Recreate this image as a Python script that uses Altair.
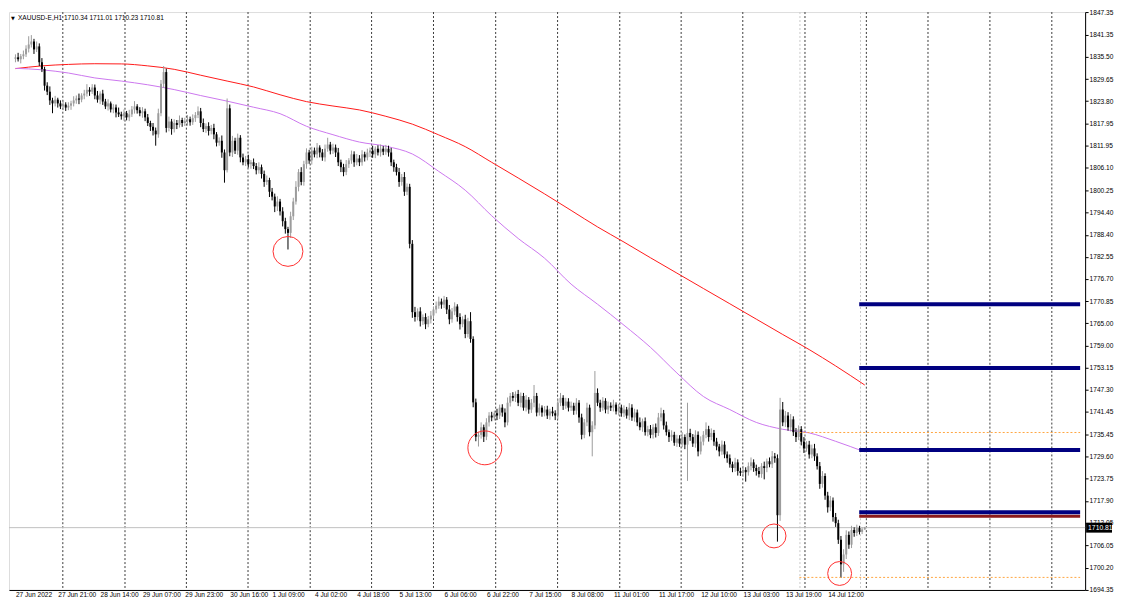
import altair as alt
import pandas as pd

FONT = "Liberation Sans"
W, H = 1080, 580
X_START, X_END = -0.56, 402.4
Y_MIN, Y_MAX = 1694.3, 1847.4

# ---- hourly candles (close / wick lengths) ----
first_open = 1835.0
closes = [
    1835.4, 1834.9, 1835.7, 1836.2, 1837.7, 1838.8, 1839.6, 1837.5, 1838.3, 1834.1,
    1832.3, 1827.9, 1826.3, 1824.0, 1823.2, 1824.2, 1823.2, 1822.4, 1822.9, 1822.1,
    1822.6, 1823.2, 1824.0, 1824.5, 1824.2, 1825.3, 1825.8, 1826.8, 1826.3, 1827.4,
    1825.3, 1824.2, 1825.8, 1823.7, 1822.4, 1823.2, 1821.6, 1822.1, 1820.8, 1820.3,
    1819.8, 1820.6, 1819.5, 1820.3, 1821.6, 1822.4, 1821.4, 1820.6, 1821.1, 1819.5,
    1818.0, 1817.0, 1816.0, 1815.0, 1820.6, 1828.4, 1831.5, 1816.7, 1818.4, 1816.4,
    1818.0, 1817.5, 1818.8, 1818.0, 1818.5, 1819.0, 1818.2, 1819.3, 1820.1, 1821.1,
    1818.0, 1816.4, 1817.2, 1815.9, 1816.7, 1815.0, 1812.8, 1813.3, 1810.2, 1805.5,
    1821.9, 1810.2, 1813.3, 1810.7, 1814.1, 1808.9, 1807.6, 1808.4, 1807.1, 1807.6,
    1806.6, 1805.5, 1806.3, 1804.5, 1802.4, 1802.9, 1799.8, 1798.5, 1795.9, 1797.2,
    1794.6, 1792.0, 1789.9, 1788.9, 1793.3, 1797.2, 1801.1, 1805.0, 1802.4, 1807.1,
    1810.2, 1808.1, 1810.7, 1809.7, 1811.5, 1810.2, 1808.9, 1811.2, 1812.3, 1810.7,
    1811.5, 1810.2, 1807.6, 1806.3, 1805.0, 1807.1, 1808.1, 1809.7, 1807.6, 1808.6,
    1807.6, 1809.7, 1808.9, 1810.2, 1810.7, 1809.7, 1811.2, 1810.2, 1811.2, 1810.4,
    1811.2, 1810.2, 1807.6, 1806.3, 1805.0, 1802.4, 1803.7, 1799.8, 1801.1, 1786.0,
    1767.9, 1766.6, 1768.1, 1765.5, 1766.6, 1764.7, 1766.0, 1767.0, 1768.6, 1769.6,
    1770.7, 1769.9, 1771.2, 1768.6, 1766.0, 1768.1, 1769.4, 1766.6, 1764.7, 1766.0,
    1762.1, 1765.5, 1760.8, 1744.0, 1734.9, 1735.4, 1737.4, 1734.9, 1738.7, 1740.5,
    1740.0, 1741.1, 1740.5, 1742.6, 1741.3, 1738.7, 1743.9, 1745.7, 1745.2, 1746.2,
    1743.9, 1745.7, 1742.6, 1744.7, 1742.1, 1743.9, 1745.7, 1741.3, 1742.6, 1741.3,
    1742.1, 1740.5, 1741.6, 1741.1, 1740.5, 1743.9, 1745.2, 1743.1, 1744.2, 1742.6,
    1743.1, 1741.8, 1743.9, 1740.0, 1735.4, 1738.7, 1742.6, 1736.1, 1737.9, 1746.5,
    1743.9, 1742.6, 1744.4, 1742.1, 1743.1, 1742.6, 1743.4, 1741.6, 1742.6, 1741.1,
    1742.1, 1740.5, 1742.6, 1740.0, 1741.3, 1738.7, 1737.4, 1739.0, 1736.1, 1736.9,
    1735.4, 1737.4, 1735.9, 1740.0, 1741.1, 1737.9, 1736.1, 1734.8, 1735.4, 1733.3,
    1734.4, 1733.1, 1734.8, 1732.8, 1735.9, 1734.8, 1733.1, 1735.4, 1731.0, 1733.6,
    1735.4, 1736.9, 1734.8, 1735.9, 1733.6, 1732.3, 1731.0, 1732.8, 1730.2, 1729.2,
    1727.6, 1726.6, 1728.1, 1725.8, 1725.3, 1726.1, 1725.5, 1727.1, 1728.1, 1726.6,
    1725.8, 1725.0, 1727.1, 1726.6, 1728.4, 1727.6, 1729.7, 1729.2, 1714.1, 1742.1,
    1738.7, 1740.5, 1737.4, 1739.5, 1736.1, 1734.8, 1736.9, 1733.6, 1731.8, 1732.8,
    1730.2, 1731.8, 1729.7, 1727.1, 1722.4, 1724.5, 1719.3, 1716.2, 1718.0, 1713.6,
    1712.0, 1707.6, 1701.1, 1703.7, 1708.9, 1706.3, 1710.2, 1709.4, 1710.7, 1709.7,
    1710.34, 1710.81,
]
upper_wick = [
    0.8, 1.2, 0.6, 1.0, 0.9, 2.2, 1.7, 0.7, 1.3, 0.8,
    1.1, 0.6, 0.9, 1.4, 0.7, 1.0, 0.5, 0.8, 1.2, 0.6,
    0.9, 0.7, 1.1, 0.8, 1.3, 0.6, 1.0, 1.5, 0.7, 0.9,
    0.8, 1.2, 0.6, 1.0, 0.7, 1.1, 0.5, 0.9, 0.8, 1.3,
    0.7, 1.0, 0.6, 1.2, 0.9, 1.4, 0.6, 0.8, 1.1, 0.7,
    0.9, 0.6, 1.0, 0.8, 1.2, 1.0, 1.6, 0.9, 1.3, 0.7,
    1.0, 0.8, 1.2, 0.6, 0.9, 1.1, 0.7, 1.0, 0.8, 1.3,
    0.9, 1.2, 0.7, 1.0, 0.8, 1.1, 0.6, 0.9, 1.4, 0.8,
    2.6, 1.0, 1.3, 0.8, 1.1, 0.7, 1.0, 0.9, 1.2, 0.6,
    1.0, 0.8, 1.3, 0.7, 0.9, 1.2, 0.6, 1.0, 0.8, 1.4,
    0.7, 1.1, 0.9, 0.6, 1.2, 1.0, 1.5, 0.8, 1.3, 0.9,
    1.1, 0.7, 1.0, 0.8, 1.2, 0.6, 0.9, 1.1, 1.8, 0.7,
    1.0, 0.8, 1.2, 0.7, 0.9, 1.1, 0.6, 1.0, 0.8, 1.2,
    0.9, 1.1, 0.7, 1.0, 0.8, 1.3, 0.6, 0.9, 1.1, 0.7,
    1.0, 0.8, 1.2, 0.7, 0.9, 1.1, 0.8, 1.3, 0.9, 0.8,
    1.0, 1.4, 0.8, 1.1, 0.7, 1.0, 0.9, 1.2, 0.8, 1.1,
    1.3, 0.8, 1.0, 0.7, 1.2, 0.9, 1.1, 0.6, 1.0, 0.8,
    1.2, 0.9, 2.4, 0.7, 1.0, 0.8, 1.3, 0.7, 1.1, 0.9,
    1.0, 0.7, 1.2, 0.8, 0.9, 1.1, 1.4, 0.8, 1.0, 0.7,
    1.1, 0.9, 0.8, 1.2, 0.7, 1.0, 2.9, 0.8, 1.1, 0.6,
    0.9, 1.0, 0.7, 1.2, 0.8, 1.1, 1.3, 0.7, 1.0, 0.9,
    1.1, 0.8, 1.2, 0.7, 1.0, 0.9, 1.3, 0.8, 1.1, 5.8,
    1.2, 0.8, 1.0, 0.7, 1.1, 0.9, 1.3, 0.6, 1.0, 0.8,
    1.1, 0.7, 1.2, 0.9, 1.0, 0.8, 1.3, 0.7, 1.0, 0.9,
    1.1, 0.8, 1.0, 1.2, 1.5, 0.9, 1.0, 0.7, 1.2, 0.8,
    1.0, 0.9, 1.3, 0.7, 8.0, 1.1, 0.8, 1.2, 0.9, 1.4,
    1.0, 1.8, 0.9, 1.2, 0.8, 1.0, 0.7, 1.1, 0.9, 0.8,
    1.0, 0.7, 1.2, 0.8, 0.9, 1.1, 0.7, 1.0, 1.3, 0.8,
    0.9, 1.1, 0.8, 1.2, 0.7, 1.0, 1.4, 0.9, 1.0, 3.1,
    2.0, 1.2, 0.9, 1.4, 0.8, 1.1, 1.0, 0.8, 1.2, 0.9,
    1.0, 1.0, 1.2, 0.8, 1.1, 1.3, 0.7, 1.0, 1.2, 0.8,
    1.1, 0.9, 1.0, 1.4, 1.2, 0.9, 1.1, 0.7, 0.9, 0.6,
    0.5, 0.2,
]
lower_wick = [
    0.9, 0.6, 1.1, 0.8, 0.7, 1.0, 0.8, 1.2, 0.7, 1.0,
    0.8, 1.3, 0.9, 1.2, 2.6, 0.8, 1.1, 0.7, 1.0, 0.9,
    0.7, 1.1, 0.8, 0.9, 1.2, 0.7, 1.0, 0.8, 1.1, 0.6,
    1.0, 0.8, 1.2, 0.9, 0.7, 1.1, 0.8, 1.0, 1.3, 0.7,
    0.9, 1.2, 0.8, 1.0, 0.7, 1.1, 0.9, 0.8, 1.2, 1.0,
    0.8, 1.1, 1.3, 3.0, 0.9, 0.8, 1.0, 1.2, 0.9, 1.5,
    0.9, 1.1, 0.7, 1.0, 0.8, 1.2, 0.9, 0.7, 1.0, 0.8,
    1.1, 0.8, 1.0, 1.2, 0.9, 1.3, 1.0, 0.8, 1.4, 3.3,
    0.6, 1.0, 1.2, 0.9, 1.1, 1.3, 0.8, 1.0, 0.9, 1.2,
    0.8, 1.1, 0.9, 1.2, 1.3, 0.8, 1.4, 1.0, 1.5, 1.2,
    1.1, 1.4, 1.2, 4.4, 1.3, 1.0, 0.8, 1.2, 0.9, 1.0,
    1.2, 0.9, 1.1, 0.8, 1.0, 1.3, 0.9, 1.1, 0.8, 1.0,
    0.9, 1.2, 1.0, 1.3, 1.1, 0.8, 1.0, 0.9, 1.2, 0.8,
    1.0, 0.9, 1.1, 0.8, 1.2, 0.9, 1.0, 0.8, 1.1, 0.9,
    0.8, 1.1, 1.0, 1.2, 0.9, 1.3, 1.0, 1.1, 0.9, 1.2,
    1.5, 1.2, 0.9, 1.4, 1.0, 1.3, 0.8, 1.1, 0.9, 1.0,
    0.8, 1.1, 0.9, 1.2, 1.3, 0.9, 1.0, 1.2, 1.4, 0.8,
    1.1, 0.9, 1.0, 1.3, 1.2, 2.6, 1.0, 1.4, 0.9, 1.1,
    1.0, 0.8, 1.2, 0.9, 1.1, 1.3, 0.8, 1.0, 0.9, 1.1,
    0.9, 1.2, 0.8, 1.0, 1.1, 0.9, 1.2, 1.0, 0.8, 1.1,
    1.0, 0.9, 1.1, 0.8, 1.2, 1.0, 0.9, 1.1, 0.8, 1.0,
    0.9, 1.1, 1.0, 1.4, 1.2, 0.9, 1.0, 1.1, 6.4, 1.0,
    0.9, 1.1, 0.8, 1.0, 1.2, 0.9, 1.0, 0.8, 1.1, 0.9,
    1.0, 0.8, 1.2, 0.9, 1.1, 1.0, 0.8, 1.2, 0.9, 1.1,
    0.9, 1.0, 1.2, 0.8, 1.0, 1.1, 0.9, 1.3, 1.0, 0.8,
    1.1, 0.9, 1.0, 1.2, 9.6, 1.0, 0.9, 1.1, 1.3, 0.8,
    1.0, 0.9, 1.2, 0.8, 1.1, 1.0, 1.3, 0.9, 1.0, 1.2,
    0.9, 1.1, 1.0, 1.2, 0.8, 1.0, 2.5, 0.9, 1.1, 1.0,
    1.2, 0.9, 1.0, 3.0, 1.1, 0.8, 1.0, 1.2, 7.0, 1.5,
    1.0, 1.2, 0.9, 1.1, 1.0, 1.3, 0.8, 1.0, 1.2, 0.9,
    1.1, 1.0, 1.2, 0.9, 1.3, 1.0, 1.1, 1.4, 1.0, 1.2,
    1.0, 1.1, 3.6, 2.0, 1.2, 1.1, 0.9, 1.0, 0.8, 0.7,
    0.6, 0.11,
]

# ---- moving averages (read at every 10th bar) ----
ma_idx = [0, 10, 20, 30, 40, 50, 60, 70, 80, 90, 100, 110, 120, 130, 140, 150, 160,
          170, 180, 190, 200, 210, 220, 230, 240, 250, 260, 270, 280, 290, 300, 310, 321]
ma_red = [1832.41, 1833.14, 1833.53, 1833.71, 1833.66, 1833.14, 1832.23, 1830.67, 1829.12,
          1827.56, 1825.49, 1823.67, 1822.51, 1821.47, 1819.78, 1817.71, 1814.85, 1811.74,
          1807.59, 1803.45, 1799.22, 1794.86, 1790.48, 1786.46, 1782.31, 1778.24, 1774.17,
          1770.12, 1766.05, 1761.98, 1757.98, 1753.65, 1748.59]
ma_purple = [1832.49, 1832.10, 1831.25, 1829.95, 1829.12, 1828.13, 1826.86, 1825.28, 1823.80,
             1822.19, 1820.48, 1817.14, 1814.91, 1812.96, 1811.85, 1809.80, 1805.18, 1800.20,
             1793.43, 1787.42, 1782.18, 1775.33, 1770.00, 1764.44, 1758.58, 1751.78, 1745.56,
             1742.09, 1738.69, 1736.87, 1735.91, 1733.68, 1730.88]
ma_colors = {"red": "#ff1a1a", "purple": "#cc77ee"}

# ---- axes ----
label_idx = [0, 16, 32, 48, 64, 81, 97, 113, 129, 145, 162, 178, 194, 210, 226, 243, 259, 275, 291, 307]
label_text = ["27 Jun 2022", "27 Jun 21:00", "28 Jun 14:00", "29 Jun 07:00", "29 Jun 23:00",
              "30 Jun 16:00", "1 Jul 09:00", "4 Jul 02:00", "4 Jul 18:00", "5 Jul 13:00",
              "6 Jul 06:00", "6 Jul 22:00", "7 Jul 15:00", "8 Jul 08:00", "11 Jul 01:00",
              "11 Jul 17:00", "12 Jul 10:00", "13 Jul 03:00", "13 Jul 19:00", "14 Jul 12:00"]
y_ticks = [1847.35, 1841.35, 1835.50, 1829.65, 1823.80, 1817.95, 1811.95, 1806.10, 1800.25,
           1794.40, 1788.40, 1782.55, 1776.70, 1770.85, 1765.00, 1759.00, 1753.15, 1747.30,
           1741.45, 1735.45, 1729.60, 1723.75, 1717.90, 1712.05, 1706.05, 1700.20, 1694.35]
grid_idx = [17.9, 41.4, 64.6, 87.9, 111.4, 134.6, 158.0, 181.5, 204.9, 228.4, 251.6, 274.9,
            298.4, 321.6, 344.9, 368.3, 391.7]
separator_idx = [296.5, 319.4]

# ---- levels and annotations ----
level_prices = [1769.99, 1753.13, 1731.35, 1713.85, 1714.88]
level_colors = ["#000080", "#000080", "#000080", "#8b1a1a", "#000080"]
level_widths = [4, 4, 4, 3, 4]
level_start = 318.9
orange_prices = [1736.02, 1697.63]
orange_start = 296.3
bid_price = 1710.81
circle_idx = [103.0, 177.4, 286.7, 311.5]
circle_price = [1783.99, 1731.95, 1708.61, 1698.67]
circle_size = [900, 1156, 576, 576]
title_text = "XAUUSD-E,H1  1710.34 1711.01 1710.23 1710.81"
up_color, down_color = "#9c9c9c", "#000000"

# ---- build tables ----
N = min(len(closes), len(upper_wick), len(lower_wick))
rows = []
prev = first_open
for i in range(N):
    o, c = prev, closes[i]
    rows.append({"i": i, "open": o, "close": c,
                 "high": max(o, c) + upper_wick[i], "low": min(o, c) - lower_wick[i],
                 "col": up_color if c >= o else down_color})
    prev = c
candles = pd.DataFrame(rows)

ma_df = pd.DataFrame(
    [{"i": a, "p": b, "ma": "red", "col": ma_colors["red"]} for a, b in zip(ma_idx, ma_red)]
    + [{"i": a, "p": b, "ma": "purple", "col": ma_colors["purple"]} for a, b in zip(ma_idx, ma_purple)]
)
grid_df = pd.DataFrame({"g": grid_idx})
sep_df = pd.DataFrame({"g": separator_idx})
levels_df = pd.DataFrame({"x0": [level_start] * len(level_prices), "x1": [X_END] * len(level_prices),
                          "p": level_prices, "c": level_colors, "w": level_widths})
orange_df = pd.DataFrame({"x0": [orange_start] * len(orange_prices), "x1": [X_END] * len(orange_prices),
                          "p": orange_prices})
bid_df = pd.DataFrame({"p": [bid_price], "t": [f"{bid_price:.2f}"]})
circ_df = pd.DataFrame({"i": circle_idx, "p": circle_price, "s": circle_size})
title_df = pd.DataFrame({"t": [title_text]})

expr = ("[" + ",".join(f"'{t}'" for t in label_text) + "][indexof(["
        + ",".join(str(v) for v in label_idx) + "], datum.value)]")

xs = alt.Scale(domain=[X_START, X_END], nice=False, zero=False)
ys = alt.Scale(domain=[Y_MIN, Y_MAX], nice=False, zero=False)
xaxis = alt.Axis(values=label_idx, labelExpr=expr, labelAlign="left", labelBaseline="top",
                 labelPadding=2, ticks=False, grid=False, domainColor="#000000", domainWidth=1,
                 labelFont=FONT, labelFontSize=6.6, labelColor="#000000", labelOverlap=False,
                 labelFlush=False, labelBound=False, title=None)
yaxis = alt.Axis(orient="right", values=y_ticks, format=".2f", tickSize=3, tickColor="#000000",
                 domainColor="#000000", domainWidth=1, labelPadding=1, grid=False,
                 labelFont=FONT, labelFontSize=6.6, labelColor="#000000", labelOverlap=False,
                 labelFlush=False, title=None)


def X(f):
    return alt.X(f, type="quantitative", scale=xs, axis=xaxis)


def Y(f):
    return alt.Y(f, type="quantitative", scale=ys, axis=yaxis)


grid = alt.Chart(grid_df).mark_rule(color="#3a3a3a", strokeWidth=1, strokeDash=[2, 2]).encode(x=X("g"))
seps = alt.Chart(sep_df).mark_rule(color="#c8c8c8", strokeWidth=1, strokeDash=[2, 2]).encode(x=X("g"))
bid_line = alt.Chart(bid_df).mark_rule(color="#c0c0c0", strokeWidth=1).encode(y=Y("p"))
mas = alt.Chart(ma_df).mark_line(strokeWidth=1, interpolate="monotone").encode(
    x=X("i"), y=Y("p"), detail="ma:N", color=alt.Color("col:N", scale=None))
wicks = alt.Chart(candles).mark_rule(strokeWidth=1).encode(
    x=X("i"), y=Y("low"), y2="high", color=alt.Color("col:N", scale=None))
bodies = alt.Chart(candles).mark_bar(size=2).encode(
    x=X("i"), y=Y("open"), y2="close", color=alt.Color("col:N", scale=None))
orange = alt.Chart(orange_df).mark_rule(color="#ffa640", strokeWidth=1, strokeDash=[2, 2]).encode(
    x=X("x0"), x2="x1", y=Y("p"))
levels = alt.Chart(levels_df).mark_rule().encode(
    x=X("x0"), x2="x1", y=Y("p"),
    color=alt.Color("c:N", scale=None), strokeWidth=alt.StrokeWidth("w:Q", scale=None))
circles = alt.Chart(circ_df).mark_point(shape="circle", filled=False, color="#ff3030",
                                        strokeWidth=1, opacity=1).encode(
    x=X("i"), y=Y("p"), size=alt.Size("s:Q", scale=None, legend=None))
box = alt.Chart(bid_df).mark_rule(color="#000000", strokeWidth=10).encode(
    y=Y("p"), x=alt.value(W + 1), x2=alt.value(W + 27))
box_text = alt.Chart(bid_df).mark_text(align="left", baseline="middle", color="#ffffff",
                                       font=FONT, fontSize=6.8).encode(
    y=Y("p"), x=alt.value(W + 3), text="t:N")
tri = alt.Chart(title_df).mark_text(align="left", baseline="middle", color="#000000",
                                    font="DejaVu Sans", fontSize=5).encode(
    x=alt.value(2), y=alt.value(5.5), text=alt.value("▼"))
title = alt.Chart(title_df).mark_text(align="left", baseline="middle", color="#000000",
                                      font=FONT, fontSize=6.6).encode(
    x=alt.value(9), y=alt.value(5.5), text="t:N")

chart = alt.layer(
    grid, seps, bid_line, mas, wicks, bodies, orange, levels, circles, box, box_text, tri, title
).properties(
    width=W, height=H, padding={"left": 0, "top": 0, "right": 0, "bottom": 0}
).configure_view(stroke="#9a9a9a", strokeWidth=1).configure(background="#ffffff")

chart.save("out.html", embed_options={"renderer": "svg", "actions": False})
